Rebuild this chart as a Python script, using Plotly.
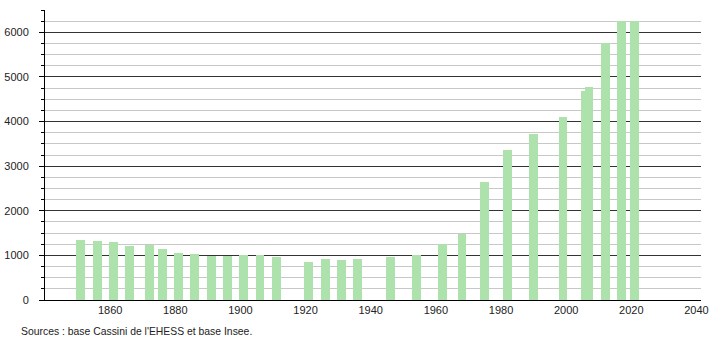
import plotly.graph_objects as go

years = [1851, 1856, 1861, 1866, 1872, 1876, 1881, 1886, 1891, 1896,
         1901, 1906, 1911, 1921, 1926, 1931, 1936, 1946, 1954, 1962,
         1968, 1975, 1982, 1990, 1999, 2006, 2007, 2012, 2017, 2021]
population = [1350, 1327, 1300, 1222, 1230, 1147, 1055, 1040, 990, 990,
              1012, 1020, 975, 855, 922, 900, 922, 975, 1012, 1260,
              1478, 2655, 3353, 3713, 4110, 4687, 4770, 5760, 6248, 6248]
x_ticks = [1860, 1880, 1900, 1920, 1940, 1960, 1980, 2000, 2020, 2040]
y_ticks = [0, 1000, 2000, 3000, 4000, 5000, 6000]
source_text = "Sources : base Cassini de l'EHESS et base Insee."

fig = go.Figure()
fig.add_trace(go.Bar(
    x=years, y=population, width=2.7,
    marker=dict(color="#ade2ad", line=dict(width=0)),
    hoverinfo="x+y",
))

font = dict(family="Liberation Sans, Arial, sans-serif", size=11, color="#222222")
src_font = dict(family="Liberation Sans, Arial, sans-serif", size=10.4, color="#222222")

fig.update_layout(
    width=710, height=340,
    margin=dict(l=44.5, r=9, t=10, b=40, autoexpand=False),
    paper_bgcolor="white", plot_bgcolor="white",
    showlegend=False,
    font=font,
    bargap=0,
    xaxis=dict(
        range=[1840, 2041.4],
        tickmode="array", tickvals=x_ticks, ticktext=[str(v) for v in x_ticks],
        showgrid=False, zeroline=False,
        showline=True, linecolor="black", linewidth=1,
        ticks="", tickfont=font, automargin=False,
        fixedrange=True,
    ),
    yaxis=dict(
        range=[0, 6502],
        tickmode="array", tickvals=y_ticks, ticktext=[str(v) for v in y_ticks],
        showgrid=True, gridcolor="#333333", gridwidth=1,
        zeroline=False,
        showline=True, linecolor="black", linewidth=1,
        ticks="outside", ticklen=5, tickcolor="black", tickwidth=1,
        ticklabelstandoff=8,
        tickfont=font, automargin=False,
        minor=dict(dtick=250, tick0=0, showgrid=True, gridcolor="#c8c8c8",
                   gridwidth=1, ticks="outside", ticklen=3, tickcolor="black"),
        fixedrange=True,
    ),
    annotations=[dict(
        text=source_text, xref="paper", yref="paper",
        x=-0.0403, y=-0.109, xanchor="left", yanchor="middle",
        showarrow=False, font=src_font,
    )],
)

fig.write_html("out.html")
